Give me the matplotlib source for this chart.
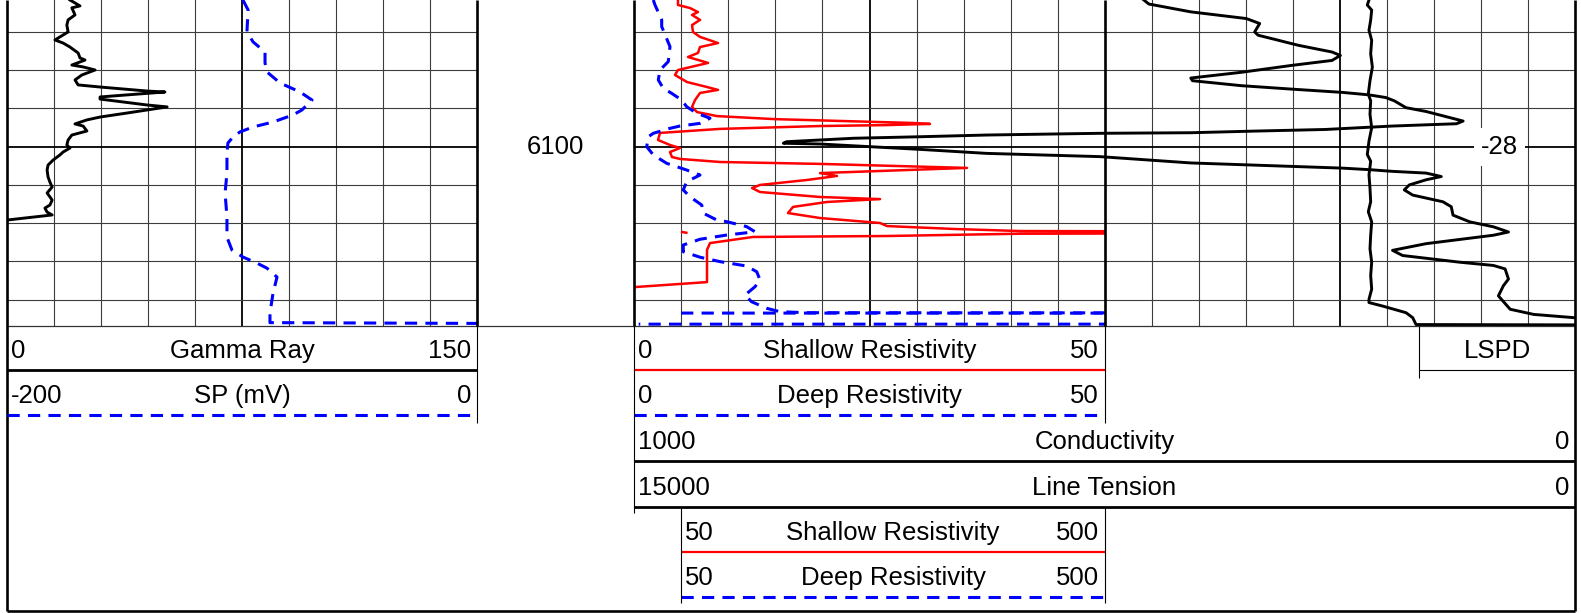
import numpy as np
import matplotlib
matplotlib.use("Agg")
import matplotlib.pyplot as plt

plt.rcParams["font.family"] = ["Liberation Sans", "DejaVu Sans"]

# depth window of the log area (ft), grid every 2 ft, bold at 6100
DEPTH_TOP = 6092.33
DEPTH_BOT = 6109.36

# Gamma Ray (API), track 1, scale 0 - 150
gr_depth = [6092.33, 6092.64, 6092.74, 6093.11, 6093.37, 6093.64, 6094.00, 6094.42, 6094.58, 6094.79,
            6095.10, 6095.36, 6095.47, 6095.73, 6095.83, 6095.99, 6096.25, 6096.51, 6096.77, 6096.88,
            6097.09, 6097.14, 6097.40, 6097.51, 6097.82, 6097.92, 6098.08, 6098.24, 6098.45, 6098.60,
            6098.81, 6098.92, 6099.18, 6099.39, 6099.65, 6099.91, 6100.07, 6100.28, 6100.43, 6100.70,
            6100.96, 6101.22, 6101.58, 6101.85, 6102.11, 6102.42, 6102.79, 6103.05, 6103.21, 6103.42,
            6103.57, 6103.83]
gr_value = [20.1, 23.3, 20.7, 21.7, 19.5, 19.1, 19.5, 15.3, 17.9, 20.1,
            22.7, 23.3, 24.9, 20.7, 24.3, 28.1, 23.9, 21.7, 22.7, 29.7,
            44.7, 50.4, 29.7, 29.7, 44.7, 51.1, 44.7, 38.3, 29.7, 25.5,
            21.7, 24.3, 25.5, 20.7, 19.5, 19.1, 20.1, 17.9, 16.9, 14.7,
            13.1, 12.8, 13.1, 13.7, 14.4, 12.8, 14.4, 13.7, 12.1, 12.8,
            14.4, 0.3]

# SP (mV), track 1, scale -200 - 0
sp_depth = [6092.33, 6092.85, 6094.00, 6094.52, 6095.05, 6095.62, 6096.09, 6096.67, 6097.14, 6097.56,
            6098.08, 6098.34, 6098.71, 6098.97, 6099.23, 6099.49, 6099.81, 6100.33, 6101.38, 6102.42,
            6103.68, 6104.73, 6105.40, 6105.77, 6106.09, 6106.35, 6106.82, 6107.66, 6108.70, 6109.20,
            6109.25]
sp_value = [-99.6, -97.4, -97.9, -95.3, -90.2, -90.2, -89.4, -83.8, -75.3, -70.2,
            -74.5, -78.3, -86.8, -95.3, -100.9, -103.8, -106.0, -106.4, -106.4, -107.2,
            -106.4, -106.4, -104.3, -99.6, -93.6, -89.4, -85.1, -86.8, -88.1, -88.1,
            20.0]

# Shallow resistivity (ohm.m), track 2, 0 - 50 with 50 - 500 backup
rs_depth = [6092.33, 6092.59, 6092.75, 6092.96, 6093.11, 6093.37, 6093.64, 6094.00, 6094.26, 6094.58,
            6094.79, 6095.10, 6095.31, 6095.62, 6095.99, 6096.25, 6096.62, 6096.88, 6097.03, 6097.19,
            6097.56, 6097.92, 6098.19, 6098.40, 6098.56, 6098.76, 6098.81, 6098.87, 6098.92, 6099.07,
            6099.28, 6099.65, 6099.91, 6100.07, 6100.28, 6100.54, 6100.64, 6100.80, 6100.90, 6101.11,
            6101.32, 6101.38, 6101.53, 6101.74, 6102.00, 6102.16, 6102.37, 6102.63, 6102.74, 6102.89,
            6103.15, 6103.47, 6103.73, 6103.99, 6104.15, 6104.30, 6104.41, 6104.46, 6104.50, 6104.55,
            6104.67, 6104.72, 6105.04, 6105.40, 6107.08, 6107.34]
rs_value = [4.67, 4.67, 5.94, 6.79, 6.16, 7.01, 6.16, 6.26, 7.01, 8.92,
            7.01, 6.79, 5.73, 7.86, 4.67, 4.35, 5.63, 7.75, 8.92, 7.01,
            6.48, 6.16, 6.69, 8.81, 14.97, 29.62, 31.42, 26.86, 19.75, 9.13,
            2.76, 2.55, 3.82, 4.88, 3.82, 4.03, 4.88, 9.13, 19.75, 35.35,
            23.25, 19.75, 21.55, 18.37, 13.38, 12.53, 13.38, 19.75, 26.12, 20.49,
            16.88, 16.35, 19.75, 26.12, 26.86, 33.86, 40.98, 96.0, 100.0, 41.0,
            26.86, 12.63, 8.07, 7.75, 7.75, 0.1]

# Deep resistivity (ohm.m), track 2, 0 - 50 with 50 - 500 backup
rd_depth = [6092.33, 6092.59, 6093.37, 6093.72, 6094.77, 6095.55, 6095.99, 6096.51, 6096.95, 6097.21,
            6097.56, 6097.91, 6098.25, 6098.51, 6098.78, 6098.92, 6099.04, 6099.30, 6099.48, 6100.00,
            6100.43, 6100.87, 6101.22, 6101.48, 6101.83, 6102.26, 6102.62, 6103.05, 6103.48, 6103.83,
            6103.92, 6104.18, 6104.45, 6104.62, 6104.84, 6105.14, 6105.49, 6105.78, 6106.01, 6106.24,
            6106.54, 6106.97, 6107.32, 6107.76, 6108.11, 6108.45, 6108.63, 6108.68, 6108.70, 6108.72,
            6109.26, 6109.28]
rd_value = [2.05, 2.23, 2.94, 2.94, 3.82, 3.64, 2.76, 2.58, 3.11, 4.00,
            5.06, 5.59, 6.66, 8.07, 7.01, 4.88, 3.82, 2.05, 1.52, 1.35,
            2.05, 3.47, 5.59, 7.01, 5.59, 5.23, 5.94, 7.19, 7.36, 8.78,
            9.84, 11.96, 12.85, 9.84, 7.01, 5.23, 5.23, 7.01, 9.13, 11.96,
            13.03, 13.38, 12.85, 11.78, 12.49, 14.09, 15.5, 18.33, 95.0, 2000.0,
            2000.0, 0.5]

# Conductivity, tracks 2+3, scale 1000 - 0
cond_depth = [6092.33, 6092.54, 6092.95, 6093.30, 6093.56, 6094.00, 6094.17, 6094.70, 6095.05, 6095.23,
              6095.49, 6095.75, 6096.11, 6096.41, 6096.55, 6096.81, 6096.99, 6097.16, 6097.29, 6097.43,
              6097.60, 6097.96, 6098.16, 6098.66, 6098.80, 6098.92, 6099.10, 6099.18, 6099.27, 6099.30,
              6099.35, 6099.39, 6099.48, 6099.56, 6099.74, 6099.82, 6099.86, 6100.00, 6100.14, 6100.35,
              6100.52, 6100.85, 6101.03, 6101.12, 6101.20, 6101.29, 6101.38, 6101.56, 6101.73, 6102.00,
              6102.26, 6102.53, 6102.88, 6103.14, 6103.58, 6103.93, 6104.19, 6104.46, 6104.63, 6105.07,
              6105.42, 6105.69, 6106.04, 6106.21, 6106.39, 6106.92, 6107.27, 6107.80, 6108.50, 6108.77,
              6108.94, 6109.00]
cond_value = [458.2, 452.9, 408.3, 349.3, 335.1, 340.4, 336.8, 293.9, 258.2, 249.3,
              258.2, 301.1, 354.6, 408.3, 406.5, 354.6, 301.1, 247.5, 218.9, 201.1,
              192.1, 179.6, 158.2, 118.9, 126.0, 193.9, 265.4, 336.8, 408.3, 504.8,
              572.1, 625.2, 696.1, 767.0, 837.8, 841.3, 802.3, 749.2, 696.1, 625.2,
              504.8, 408.3, 301.1, 247.5, 218.9, 193.9, 158.2, 142.1, 158.2, 176.1,
              181.4, 172.5, 140.4, 131.5, 129.6, 111.8, 86.7, 70.7, 86.7, 158.2,
              193.9, 183.2, 122.5, 86.7, 74.3, 70.7, 76.1, 81.4, 68.9, 43.9,
              1.1, -30.0]

# Line tension, tracks 2+3, scale 15000 - 0
tens_depth = [6092.33, 6092.59, 6092.86, 6093.38, 6093.91, 6094.44, 6095.14, 6095.84, 6096.55, 6097.25,
              6097.60, 6098.31, 6099.01, 6099.71, 6100.41, 6100.76, 6101.47, 6102.17, 6102.88, 6103.40,
              6103.93, 6104.63, 6105.34, 6106.04, 6106.74, 6107.45, 6107.98, 6108.15, 6108.33, 6108.68,
              6108.94, 6109.30, 6109.32]
tens_value = [3284, 3311, 3241, 3257, 3284, 3241, 3257, 3230, 3268, 3295,
              3257, 3268, 3241, 3284, 3311, 3257, 3284, 3268, 3257, 3295,
              3241, 3257, 3268, 3241, 3257, 3241, 3284, 3284, 3070, 2694,
              2587, 2534, -500]

W, H = 1581, 613
LOG_BOTTOM = 325.7
FS = 18.5
GRID = "#3c3c3c"
DASH = (4, 2.7)

fig = plt.figure(figsize=(W / 100, H / 100), dpi=100)


def px_rect(x0, x1, y0, y1):
    return [x0 / W, 1 - y1 / H, (x1 - x0) / W, (y1 - y0) / H]


def log_axes(x0, x1, xlim, grid=False):
    ax = fig.add_axes(px_rect(x0, x1, 0, LOG_BOTTOM), frameon=False)
    ax.set_xlim(*xlim)
    ax.set_ylim(DEPTH_BOT, DEPTH_TOP)
    ax.set_facecolor("none")
    ax.set_xticks([])
    ax.set_yticks([])
    if grid:
        xs = np.linspace(xlim[0], xlim[1], 11)
        for i, x in enumerate(xs[1:-1], 1):
            bold = i == 5
            ax.axvline(x, color="black" if bold else GRID, lw=1.3 if bold else 0.8)
        for d in range(6094, 6109, 2):
            bold = d % 10 == 0
            ax.axhline(d, color="black" if bold else GRID, lw=1.3 if bold else 0.8)
    return ax


def backup(values):
    # backup scale only shows the part that ran off the 0-50 scale
    v = np.array(values, dtype=float)
    return np.where(v > 50, v, np.nan)


# grids
ax1 = log_axes(7, 477, (0, 150), grid=True)
ax2 = log_axes(634, 1105, (0, 50), grid=True)
ax3 = log_axes(1105, 1575, (0, 10), grid=True)
axd = log_axes(477, 634, (0, 1))

# curves
ax1.plot(gr_value, gr_depth, color="black", lw=2.1)
ax_sp = log_axes(7, 477, (-200, 0))
ax_sp.plot(sp_value, sp_depth, color="blue", lw=2.2, dashes=DASH)

ax2.plot(rs_value, rs_depth, color="red", lw=1.8)
ax2.plot(rd_value, rd_depth, color="blue", lw=2.2, dashes=DASH)
ax_bk = log_axes(634, 1105, (50, 500))
ax_bk.plot(backup(rs_value), rs_depth, color="red", lw=1.8)
ax_bk.plot(backup(rd_value), rd_depth, color="blue", lw=2.2, dashes=DASH)

ax_c = log_axes(634, 1575, (1000, 0))
ax_c.plot(cond_value, cond_depth, color="black", lw=2.1)
ax_t = log_axes(634, 1575, (15000, 0))
ax_t.plot(tens_value, tens_depth, color="black", lw=2.1)

axd.text(0.5, 6100, "6100", ha="center", va="center", fontsize=FS)
ax3.text(8.4, 6100, "-28", ha="center", va="center", fontsize=FS,
         bbox=dict(facecolor="white", edgecolor="none", pad=5))

# frame and headers in pixel coordinates
hd = fig.add_axes([0, 0, 1, 1], frameon=False)
hd.set_xlim(0, W)
hd.set_ylim(H, 0)
hd.set_facecolor("none")
hd.set_xticks([])
hd.set_yticks([])


def hline(x0, x1, y, **kw):
    hd.plot([x0, x1], [y, y], solid_capstyle="butt", **kw)


def vline(x, y0, y1, lw=0.8):
    hd.plot([x, x], [y0, y1], color="black", lw=lw, solid_capstyle="butt")


def row(x0, x1, ybot, left, title, right):
    yb = ybot - 12
    hd.text(x0 + 4, yb, left, ha="left", va="baseline", fontsize=FS)
    hd.text((x0 + x1) / 2, yb, title, ha="center", va="baseline", fontsize=FS)
    hd.text(x1 - 6, yb, right, ha="right", va="baseline", fontsize=FS)


hline(7, 1575, LOG_BOTTOM, color="#333333", lw=0.9)
for x in (477, 634, 1105):
    vline(x, 0, LOG_BOTTOM, lw=1.9)
vline(7, 0, 611, lw=1.9)
vline(1575, 0, 611, lw=1.9)
hline(7, 1575, 611, color="black", lw=1.9)

# track 1 header
row(7, 477, 370, "0", "Gamma Ray", "150")
hline(7, 477, 370, color="black", lw=2)
row(7, 477, 415, "-200", "SP (mV)", "0")
hline(7, 477, 415, color="blue", lw=2.2, dashes=(4, 2.7))
vline(477, LOG_BOTTOM, 423)

# track 2 header
row(634, 1105, 370, "0", "Shallow Resistivity", "50")
hline(634, 1105, 370, color="red", lw=1.6)
row(634, 1105, 415, "0", "Deep Resistivity", "50")
hline(634, 1105, 415, color="blue", lw=2.2, dashes=(4, 2.7))
vline(1105, LOG_BOTTOM, 423)
vline(634, LOG_BOTTOM, 513)

# tracks 2+3 header
row(634, 1575, 461, "1000", "Conductivity", "0")
hline(634, 1575, 461, color="black", lw=2)
row(634, 1575, 507, "15000", "Line Tension", "0")
hline(634, 1575, 507, color="black", lw=2)

# backup scales
row(681, 1105, 552, "50", "Shallow Resistivity", "500")
hline(681, 1105, 552, color="red", lw=1.6)
row(681, 1105, 597, "50", "Deep Resistivity", "500")
hline(681, 1105, 597, color="blue", lw=2.2, dashes=(4, 2.7))
vline(681, 507, 603)
vline(1105, 507, 603)

# LSPD
hd.text((1419 + 1575) / 2, 358, "LSPD", ha="center", va="baseline", fontsize=FS)
hline(1419, 1575, 370, color="black", lw=0.8)
vline(1419, LOG_BOTTOM, 378)

fig.savefig("out.png", dpi=100)
